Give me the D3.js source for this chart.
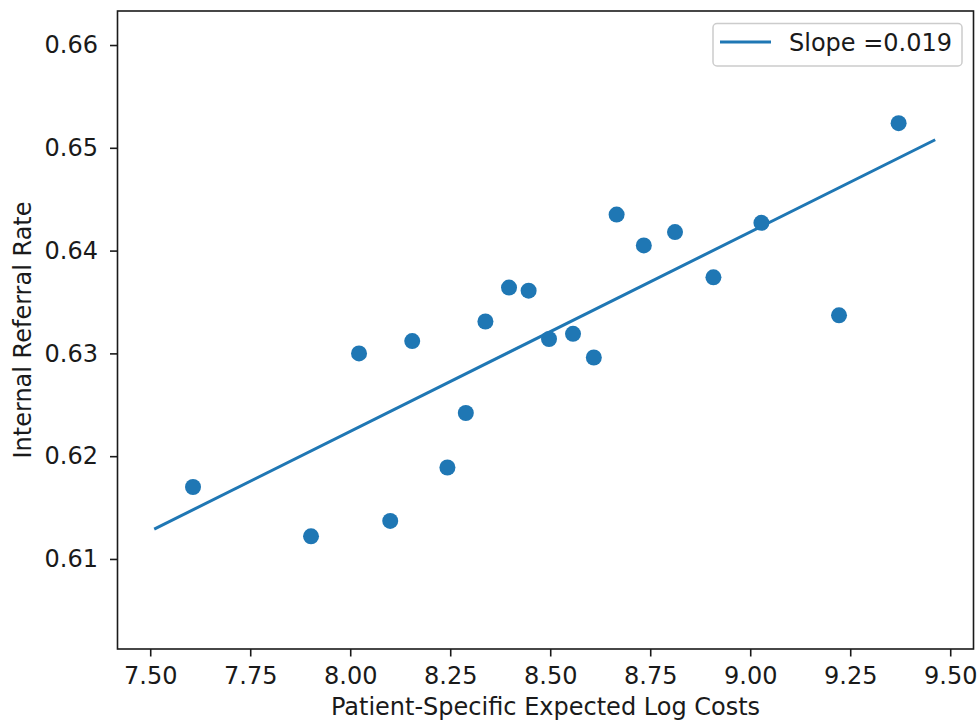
<!DOCTYPE html>
<html>
<head>
<meta charset="utf-8">
<script src="https://cdn.jsdelivr.net/npm/d3@7"></script>
<style>
  html, body { margin: 0; padding: 0; background: #fff; }
  svg { display: block; }
  text { font-family: "DejaVu Sans", sans-serif; fill: #1a1a1a; }
</style>
</head>
<body>
<svg id="chart" width="980" height="725"></svg>
<script>
// Patient-specific expected log costs (x) vs internal referral rate (y)
const expectedLogCosts = [7.607, 7.902, 8.022, 8.100, 8.155, 8.243, 8.289, 8.338, 8.397, 8.446,
                          8.497, 8.557, 8.609, 8.666, 8.734, 8.812, 8.908, 9.028, 9.222, 9.371];
const referralRates    = [0.6170, 0.6122, 0.6300, 0.6137, 0.6312, 0.6189, 0.6242, 0.6331, 0.6364, 0.6361,
                          0.6314, 0.6319, 0.6296, 0.6435, 0.6405, 0.6418, 0.6374, 0.6427, 0.6337, 0.6524];

// Fitted regression line
const fitSlope = 0.0194;
const fitIntercept = 0.46721;
const fitRangeX = [7.510, 9.4625];

const xTicks = [7.50, 7.75, 8.00, 8.25, 8.50, 8.75, 9.00, 9.25, 9.50];
const yTicks = [0.61, 0.62, 0.63, 0.64, 0.65, 0.66];
const xDomain = [7.4182, 9.5582];
const yDomain = [0.60124, 0.66331];

const blue = "#1f77b4";
const plot = { left: 117.5, right: 973.5, top: 11, bottom: 649 };
const fontSize = "24px";

const svg = d3.select("#chart");
const x = d3.scaleLinear().domain(xDomain).range([plot.left, plot.right]);
const y = d3.scaleLinear().domain(yDomain).range([plot.bottom, plot.top]);

// Axes
const xAxis = svg.append("g")
  .attr("transform", `translate(0,${plot.bottom})`)
  .call(d3.axisBottom(x).tickValues(xTicks).tickFormat(d3.format(".2f")).tickSizeOuter(0).tickSize(7.5).tickPadding(10));
const yAxis = svg.append("g")
  .attr("transform", `translate(${plot.left},0)`)
  .call(d3.axisLeft(y).tickValues(yTicks).tickFormat(d3.format(".2f")).tickSizeOuter(0).tickSize(7.5).tickPadding(12));

[xAxis, yAxis].forEach(g => {
  g.select(".domain").remove();
  g.selectAll(".tick line").attr("stroke", "#1a1a1a").attr("stroke-width", 1.6);
  g.selectAll(".tick text").style("font-size", fontSize).attr("fill", "#1a1a1a");
});

// Regression line
const fitLine = d3.line().x(d => x(d)).y(d => y(fitIntercept + fitSlope * d));
svg.append("path")
  .datum(fitRangeX)
  .attr("d", fitLine)
  .attr("fill", "none")
  .attr("stroke", blue)
  .attr("stroke-width", 3);

// Scatter points
svg.append("g").selectAll("circle")
  .data(expectedLogCosts.map((v, i) => [v, referralRates[i]]))
  .join("circle")
  .attr("cx", d => x(d[0]))
  .attr("cy", d => y(d[1]))
  .attr("r", 8)
  .attr("fill", blue);

// Plot frame
svg.append("rect")
  .attr("x", plot.left).attr("y", plot.top)
  .attr("width", plot.right - plot.left).attr("height", plot.bottom - plot.top)
  .attr("fill", "none").attr("stroke", "#1a1a1a").attr("stroke-width", 1.6);

// Axis titles
svg.append("text")
  .attr("x", (plot.left + plot.right) / 2).attr("y", 715)
  .attr("text-anchor", "middle")
  .style("font-size", fontSize)
  .text("Patient-Specific Expected Log Costs");
svg.append("text")
  .attr("transform", `translate(31,${(plot.top + plot.bottom) / 2}) rotate(-90)`)
  .attr("text-anchor", "middle")
  .style("font-size", fontSize)
  .text("Internal Referral Rate");

// Legend
const legend = svg.append("g");
legend.append("rect")
  .attr("x", 713).attr("y", 23.5).attr("width", 249).attr("height", 42.5)
  .attr("rx", 4).attr("fill", "#fff").attr("fill-opacity", 0.8)
  .attr("stroke", "#cccccc").attr("stroke-width", 1.5);
legend.append("line")
  .attr("x1", 720).attr("x2", 771).attr("y1", 42).attr("y2", 42)
  .attr("stroke", blue).attr("stroke-width", 3);
legend.append("text")
  .attr("x", 789).attr("y", 51)
  .style("font-size", fontSize)
  .text("Slope =" + fitSlope.toFixed(3));
</script>
</body>
</html>
